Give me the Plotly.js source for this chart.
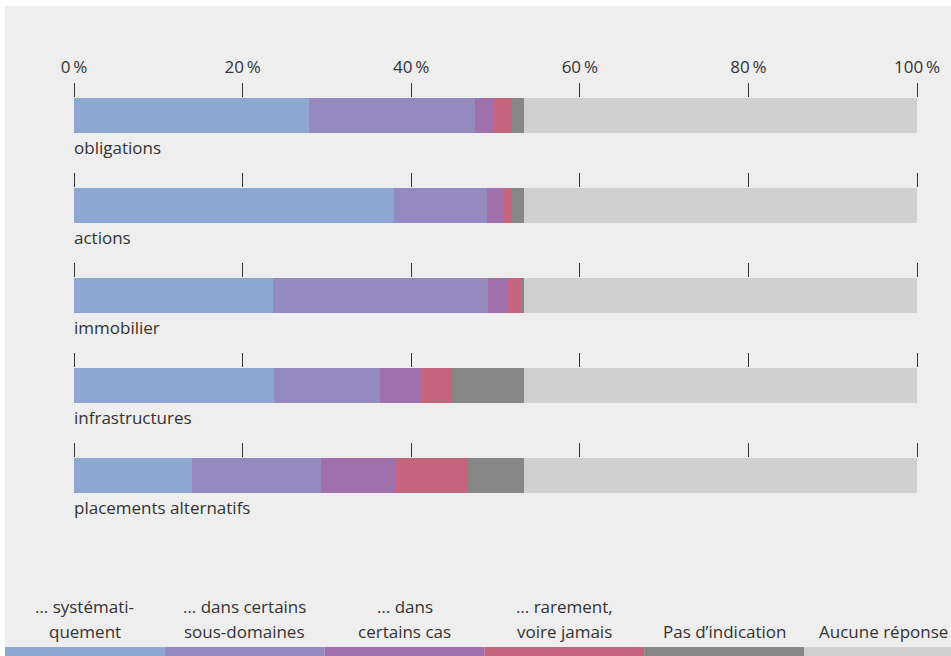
<!DOCTYPE html>
<html><head><meta charset="utf-8">
<script src="https://cdn.plot.ly/plotly-3.0.1.min.js"></script>
<style>html,body{margin:0;padding:0;background:#fff;overflow:hidden;} #chart{position:absolute;left:5px;top:6px;width:946px;height:650px;}</style>
</head><body><div id="chart"></div>
<script>
// ---- data ----
const categories = ['obligations', 'actions', 'immobilier', 'infrastructures', 'placements alternatifs'];
const seriesNames = ['… systémati-<br>quement', '… dans certains<br>sous-domaines', '… dans<br>certains cas', '… rarement,<br>voire jamais', 'Pas d’indication', 'Aucune réponse'];
const systematiquement = [27.9, 37.9, 23.6, 23.7, 14.0];
const sousDomaines     = [19.7, 11.1, 25.5, 12.6, 15.3];
const certainsCas      = [2.1, 1.9, 2.3, 4.9, 8.8];
const rarement         = [2.3, 1.1, 1.7, 3.6, 8.5];
const pasIndication    = [1.4, 1.4, 0.3, 8.6, 6.8];
const aucuneReponse    = [46.6, 46.6, 46.6, 46.6, 46.6];
const tickValues = [0, 20, 40, 60, 80, 100];
const tickLabels = ['0\u2009%', '20\u2009%', '40\u2009%', '60\u2009%', '80\u2009%', '100\u2009%'];

// ---- style ----
const seriesValues = [systematiquement, sousDomaines, certainsCas, rarement, pasIndication, aucuneReponse];
const colors = ['#8ea6d2', '#958ac0', '#9f70ac', '#c4647d', '#858685', '#cfd0cf'];
const FONT = {family: '"Open Sans", "Noto Sans", sans-serif', size: 17, color: '#333333'};
const W = 946, H = 650, L = 69, R = 34, T = 92, B = 163;
const plotW = W - L - R, plotH = H - T - B;
const rowStep = 90, barH = 35;
const px2x = p => (p - L) / plotW;
const py2y = p => (H - B - p) / plotH;

const traces = [];
const layout = {
  width: W, height: H,
  margin: {l: L, r: R, t: T, b: B, pad: 0},
  paper_bgcolor: '#eeeeee', plot_bgcolor: 'rgba(0,0,0,0)',
  font: FONT, barmode: 'stack', bargap: 0, showlegend: false,
  annotations: [], shapes: []
};

categories.forEach((cat, c) => {
  const n = c === 0 ? '' : String(c + 1);
  seriesValues.forEach((vals, s) => {
    traces.push({
      type: 'bar', orientation: 'h',
      x: [vals[c]], y: [cat],
      xaxis: 'x' + n, yaxis: 'y' + n,
      marker: {color: colors[s], line: {width: 0}},
      name: seriesNames[s], hoverinfo: 'x+name'
    });
  });
  const top = T + c * rowStep, bottom = top + barH;
  layout['yaxis' + n] = {
    domain: [py2y(bottom), py2y(top)], type: 'category',
    range: [-0.5, 0.5], visible: false, fixedrange: true
  };
  layout['xaxis' + n] = {
    domain: [0, 1], range: [0, 100], anchor: 'y' + n, side: 'top',
    tickmode: 'array', tickvals: tickValues, ticktext: tickLabels,
    showticklabels: c === 0, ticks: 'outside', ticklen: 14, tickwidth: 1,
    tickcolor: '#333333', showgrid: false, zeroline: false, showline: false,
    tickfont: FONT, fixedrange: true, ticklabelstandoff: 3
  };
  layout.annotations.push({
    text: cat, xref: 'paper', x: 0, xanchor: 'left', xshift: -2,
    yref: 'y' + n + ' domain', y: 0, yanchor: 'top', yshift: -1,
    showarrow: false, font: FONT, align: 'left'
  });
});

// legend strip
const segW = 159.8;
seriesNames.forEach((name, s) => {
  layout.shapes.push({
    type: 'rect', xref: 'paper', yref: 'paper', layer: 'above',
    x0: px2x(s * segW), x1: px2x((s + 1) * segW),
    y0: py2y(641), y1: py2y(H + 2),
    fillcolor: colors[s], line: {width: 0}
  });
  const lines = name.split('<br>');
  lines.forEach((ln, k) => {
    const fromBottom = lines.length - 1 - k;
    layout.annotations.push({
      text: ln, xref: 'paper', yref: 'paper',
      x: px2x((s + 0.5) * segW), xanchor: 'center',
      y: py2y(641), yanchor: 'bottom', yshift: 2 + fromBottom * 25,
      showarrow: false, font: FONT, align: 'center'
    });
  });
});

Plotly.newPlot('chart', traces, layout, {displayModeBar: false, staticPlot: true});
</script></body></html>
